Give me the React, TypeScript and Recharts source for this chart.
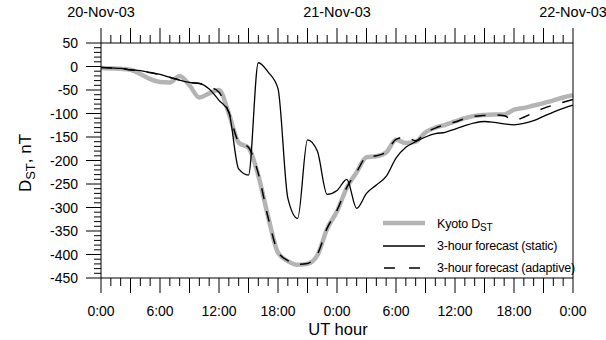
import React from 'react';
import { LineChart, Line, XAxis, YAxis } from 'recharts';

const hours = [0, 1, 2, 3, 4, 5, 6, 7, 8, 9, 10, 11, 12, 13, 14, 15, 16, 17, 18, 19, 20, 21, 22, 23, 24, 25, 26, 27, 28, 29, 30, 31, 32, 33, 34, 35, 36, 37, 38, 39, 40, 41, 42, 43, 44, 45, 46, 47, 48];

const kyotoDst = [-3, -4, -5, -7, -16, -27, -33, -34, -20, -40, -66, -57, -50, -100, -162, -173, -232, -320, -396, -414, -422, -420, -402, -345, -308, -258, -225, -193, -191, -183, -156, -163, -160, -140, -130, -124, -117, -110, -105, -103, -102, -102, -92, -88, -83, -78, -72, -66, -61];

const staticForecast = [-2, -3, -4, -7, -9, -13, -17, -23, -29, -34, -36, -48, -72, -97, -218, -231, 8, -12, -47, -280, -323, -156, -180, -272, -264, -240, -302, -270, -252, -234, -195, -172, -160, -150, -143, -140, -133, -126, -120, -117, -119, -122, -124, -121, -115, -106, -97, -89, -82];

const adaptiveForecast = [-2, -3, -4, -7, -9, -13, -17, -23, -29, -34, -36, -43, -55, -98, -160, -172, -228, -322, -394, -413, -421, -419, -400, -344, -306, -257, -224, -193, -190, -182, -155, -150, -158, -141, -131, -124, -118, -111, -106, -104, -103, -105, -114, -108, -98, -89, -82, -76, -70];

const hourLabels = ['0:00', '6:00', '12:00', '18:00', '0:00', '6:00', '12:00', '18:00', '0:00'];
const dateLabels = ['20-Nov-03', '21-Nov-03', '22-Nov-03'];
const yMajorTicks = [50, 0, -50, -100, -150, -200, -250, -300, -350, -400, -450];

const yTicks: number[] = [];
for (let v = -450; v <= 50; v += 10) yTicks.push(v);

const data = hours.map((h, i) => ({
  h,
  kyoto: kyotoDst[i],
  stat: staticForecast[i],
  adapt: adaptiveForecast[i],
}));

const FONT = '"Liberation Sans", Arial, Helvetica, sans-serif';

const BottomTick = (props: any) => {
  const { x, y, payload } = props;
  const v = payload.value as number;
  const major = v % 3 === 0;
  const len = major ? 15 : 8;
  const label = v % 6 === 0 ? hourLabels[v / 6] : null;
  return (
    <g>
      <line x1={x} x2={x} y1={y} y2={y + len} stroke="#000" strokeWidth={1} />
      {label && (
        <text x={x} y={y + 38} textAnchor="middle" fontSize={14} fontFamily={FONT} fill="#000">
          {label}
        </text>
      )}
    </g>
  );
};

const TopTick = (props: any) => {
  const { x, y, payload } = props;
  const v = payload.value as number;
  const major = v % 3 === 0;
  const len = major ? 15 : 8;
  const label = v % 24 === 0 ? dateLabels[v / 24] : null;
  return (
    <g>
      <line x1={x} x2={x} y1={y} y2={y - len} stroke="#000" strokeWidth={1} />
      {label && (
        <text x={x} y={y - 26} textAnchor="middle" fontSize={14.5} fontFamily={FONT} fill="#000">
          {label}
        </text>
      )}
    </g>
  );
};

const LeftTick = (props: any) => {
  const { x, y, payload } = props;
  const v = payload.value as number;
  const major = v % 50 === 0;
  const len = major ? 15 : 7;
  return (
    <g>
      <line x1={x} x2={x - len} y1={y} y2={y} stroke="#000" strokeWidth={1} />
      {major && (
        <text x={x - 23} y={y + 5} textAnchor="end" fontSize={14} fontFamily={FONT} fill="#000">
          {yMajorTicks.includes(v) ? String(v) : ''}
        </text>
      )}
    </g>
  );
};

const RightTick = (props: any) => {
  const { x, y, payload } = props;
  const v = payload.value as number;
  const major = v % 50 === 0;
  const len = major ? 16 : 7;
  return <line x1={x} x2={x + len} y1={y} y2={y} stroke="#000" strokeWidth={1} />;
};

export default function App() {
  return (
    <div style={{ position: 'absolute', left: 0, top: 0, width: 606, height: 340, background: '#fff' }}>
      <LineChart width={606} height={340} data={data} margin={{ top: 0, right: 0, bottom: 0, left: 0 }}>
        <XAxis
          xAxisId="bottom"
          dataKey="h"
          type="number"
          domain={[0, 48]}
          ticks={hours}
          interval={0}
          orientation="bottom"
          height={62}
          tickSize={0}
          tickMargin={0}
          tickLine={false}
          axisLine={{ stroke: '#000', strokeWidth: 1 }}
          tick={<BottomTick />}
        />
        <XAxis
          xAxisId="top"
          dataKey="h"
          type="number"
          domain={[0, 48]}
          ticks={hours}
          interval={0}
          orientation="top"
          height={43}
          tickSize={0}
          tickMargin={0}
          tickLine={false}
          axisLine={{ stroke: '#000', strokeWidth: 1 }}
          tick={<TopTick />}
        />
        <YAxis
          yAxisId="left"
          type="number"
          domain={[-450, 50]}
          ticks={yTicks}
          interval={0}
          orientation="left"
          width={101}
          tickSize={0}
          tickMargin={0}
          tickLine={false}
          axisLine={{ stroke: '#000', strokeWidth: 1 }}
          tick={<LeftTick />}
        />
        <YAxis
          yAxisId="right"
          type="number"
          domain={[-450, 50]}
          ticks={yTicks}
          interval={0}
          orientation="right"
          width={33}
          tickSize={0}
          tickMargin={0}
          tickLine={false}
          axisLine={{ stroke: '#000', strokeWidth: 1 }}
          tick={<RightTick />}
        />
        <Line
          xAxisId="bottom"
          yAxisId="left"
          type="monotone"
          dataKey="kyoto"
          stroke="#b4b4b4"
          strokeWidth={4.5}
          dot={false}
          isAnimationActive={false}
        />
        <Line
          xAxisId="bottom"
          yAxisId="left"
          type="monotone"
          dataKey="stat"
          stroke="#000"
          strokeWidth={1.3}
          dot={false}
          isAnimationActive={false}
        />
        <Line
          xAxisId="bottom"
          yAxisId="left"
          type="monotone"
          dataKey="adapt"
          stroke="#000"
          strokeWidth={1.5}
          strokeDasharray="11 12"
          dot={false}
          isAnimationActive={false}
        />
      </LineChart>
      <svg
        width={606}
        height={340}
        style={{ position: 'absolute', left: 0, top: 0, pointerEvents: 'none' }}
        fontFamily={FONT}
      >
        <text x={338} y={335} textAnchor="middle" fontSize={16.5}>
          UT hour
        </text>
        <text transform="translate(31,163) rotate(-90)" textAnchor="middle" fontSize={17}>
          D<tspan fontSize={13} dy={4}>ST</tspan>
          <tspan dy={-4}>, nT</tspan>
        </text>
        <line x1={383} x2={425} y1={223} y2={223} stroke="#b4b4b4" strokeWidth={4.5} />
        <text x={437} y={228} fontSize={12.5} letterSpacing={-0.2}>
          Kyoto D<tspan fontSize={10} dy={3}>ST</tspan>
        </text>
        <line x1={383} x2={425} y1={246} y2={246} stroke="#000" strokeWidth={1.3} />
        <text x={437} y={250} fontSize={12.5} letterSpacing={-0.2}>
          3-hour forecast (static)
        </text>
        <line x1={384} x2={425} y1={268} y2={268} stroke="#000" strokeWidth={1.5} strokeDasharray="11 14" />
        <text x={437} y={272} fontSize={12.5} letterSpacing={-0.2}>
          3-hour forecast (adaptive)
        </text>
      </svg>
    </div>
  );
}
